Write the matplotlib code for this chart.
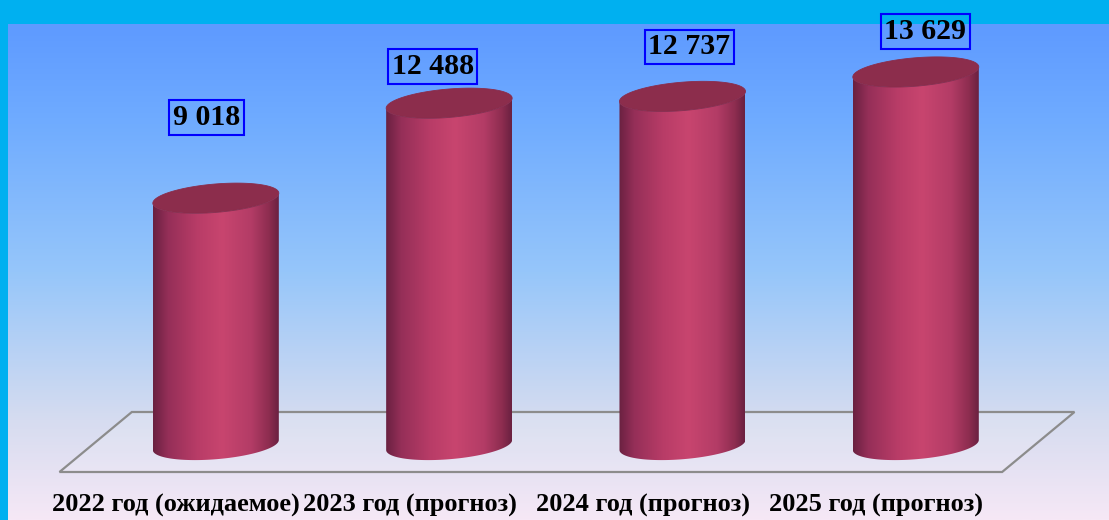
import numpy as np
import matplotlib
matplotlib.use("Agg")
import matplotlib.pyplot as plt
from matplotlib.colors import LinearSegmentedColormap
from matplotlib.patches import Polygon

# data
categories = ["2022 год (ожидаемое)", "2023 год (прогноз)",
              "2024 год (прогноз)", "2025 год (прогноз)"]
values = [9018, 12488, 12737, 13629]
value_labels = ["9 018", "12 488", "12 737", "13 629"]

# manual placement of the value boxes (category units, value units)
label_dx = [-0.04, -0.07, 0.03, 0.04]
label_dy = [2950, 1340, 1820, 1480]

W, H, DPI = 1109, 520, 100
fig = plt.figure(figsize=(W / DPI, H / DPI), dpi=DPI, facecolor="#00B0F0")

# background gradient panel (cyan frame on top and left)
bg = fig.add_axes([8 / W, 0, 1 - 8 / W, (H - 24) / H])
bg_cmap = LinearSegmentedColormap.from_list(
    "bg", [(0.0, "#F6E8F6"), (0.2, "#D6DCF0"), (0.5, "#96C6FA"),
           (0.8, "#70ACFF"), (1.0, "#5E9AFF")])
bg.imshow(np.linspace(0, 1, 256).reshape(-1, 1), cmap=bg_cmap, aspect="auto",
          origin="lower", extent=[0, 1, 0, 1])
bg.set_axis_off()

ax = fig.add_axes([0, 0, 1, 1])
ax.set_facecolor("none")
ax.set_axis_off()
XLIM = (-0.925, 3.828)
YLIM = (-2740, 16259)

# floor
floor_y = (-986, 1206)
floor_back = (-0.36, 3.68)
shift = 0.31
floor = Polygon([(floor_back[0] - shift, floor_y[0]), (floor_back[1] - shift, floor_y[0]),
                 (floor_back[1], floor_y[1]), (floor_back[0], floor_y[1])],
                closed=True, fc=(1, 1, 1, 0.12), ec="#8C8C8C", lw=1.6, zorder=1)
ax.add_patch(floor)

side_cmap = LinearSegmentedColormap.from_list(
    "side", [(0.0, "#6A2141"), (0.12, "#952F58"), (0.35, "#B83C67"),
             (0.55, "#C8456F"), (0.78, "#B33C66"), (0.92, "#8E2D50"), (1.0, "#6A2141")])

a = 0.27      # half width in category units
b = 520       # ellipse half height in value units
s = 183       # tilt of ellipse (right side higher)
t_low = np.linspace(np.pi, 2 * np.pi, 80)
t_all = np.linspace(0, 2 * np.pi, 160)

for i, v in enumerate(values):
    c = i
    bx = c + a * np.cos(t_low)
    by = b * np.sin(t_low) + s * np.cos(t_low)
    tx = bx[::-1]
    ty = v + by[::-1]
    side_pts = np.vstack([np.column_stack([bx, by]), np.column_stack([tx, ty])])
    side = Polygon(side_pts, closed=True, fc="none", ec="none", zorder=2)
    ax.add_patch(side)
    im = ax.imshow(np.linspace(0, 1, 256).reshape(1, -1), cmap=side_cmap,
                   aspect="auto", extent=[c - a, c + a, -b - s, v + b + s],
                   zorder=2)
    im.set_clip_path(side)
    top = Polygon(np.column_stack([c + a * np.cos(t_all),
                                   v + b * np.sin(t_all) + s * np.cos(t_all)]),
                  closed=True, fc="#8C2D4C", ec="#8A2C4B", lw=0.6, zorder=3)
    ax.add_patch(top)

    ax.text(c + label_dx[i], v + label_dy[i], value_labels[i],
            ha="center", va="center", fontsize=21.5, fontweight="bold",
            family="Liberation Serif", color="black", zorder=5,
            bbox=dict(boxstyle="square,pad=0.12", fc="none", ec="#0000FF", lw=1.5))

    ax.text(c - 0.17, -2200, categories[i], ha="center", va="center",
            fontsize=19, fontweight="bold", family="Liberation Serif",
            color="black", zorder=5)

ax.set_xlim(*XLIM)
ax.set_ylim(*YLIM)

fig.savefig("out.png", dpi=DPI, facecolor=fig.get_facecolor())
